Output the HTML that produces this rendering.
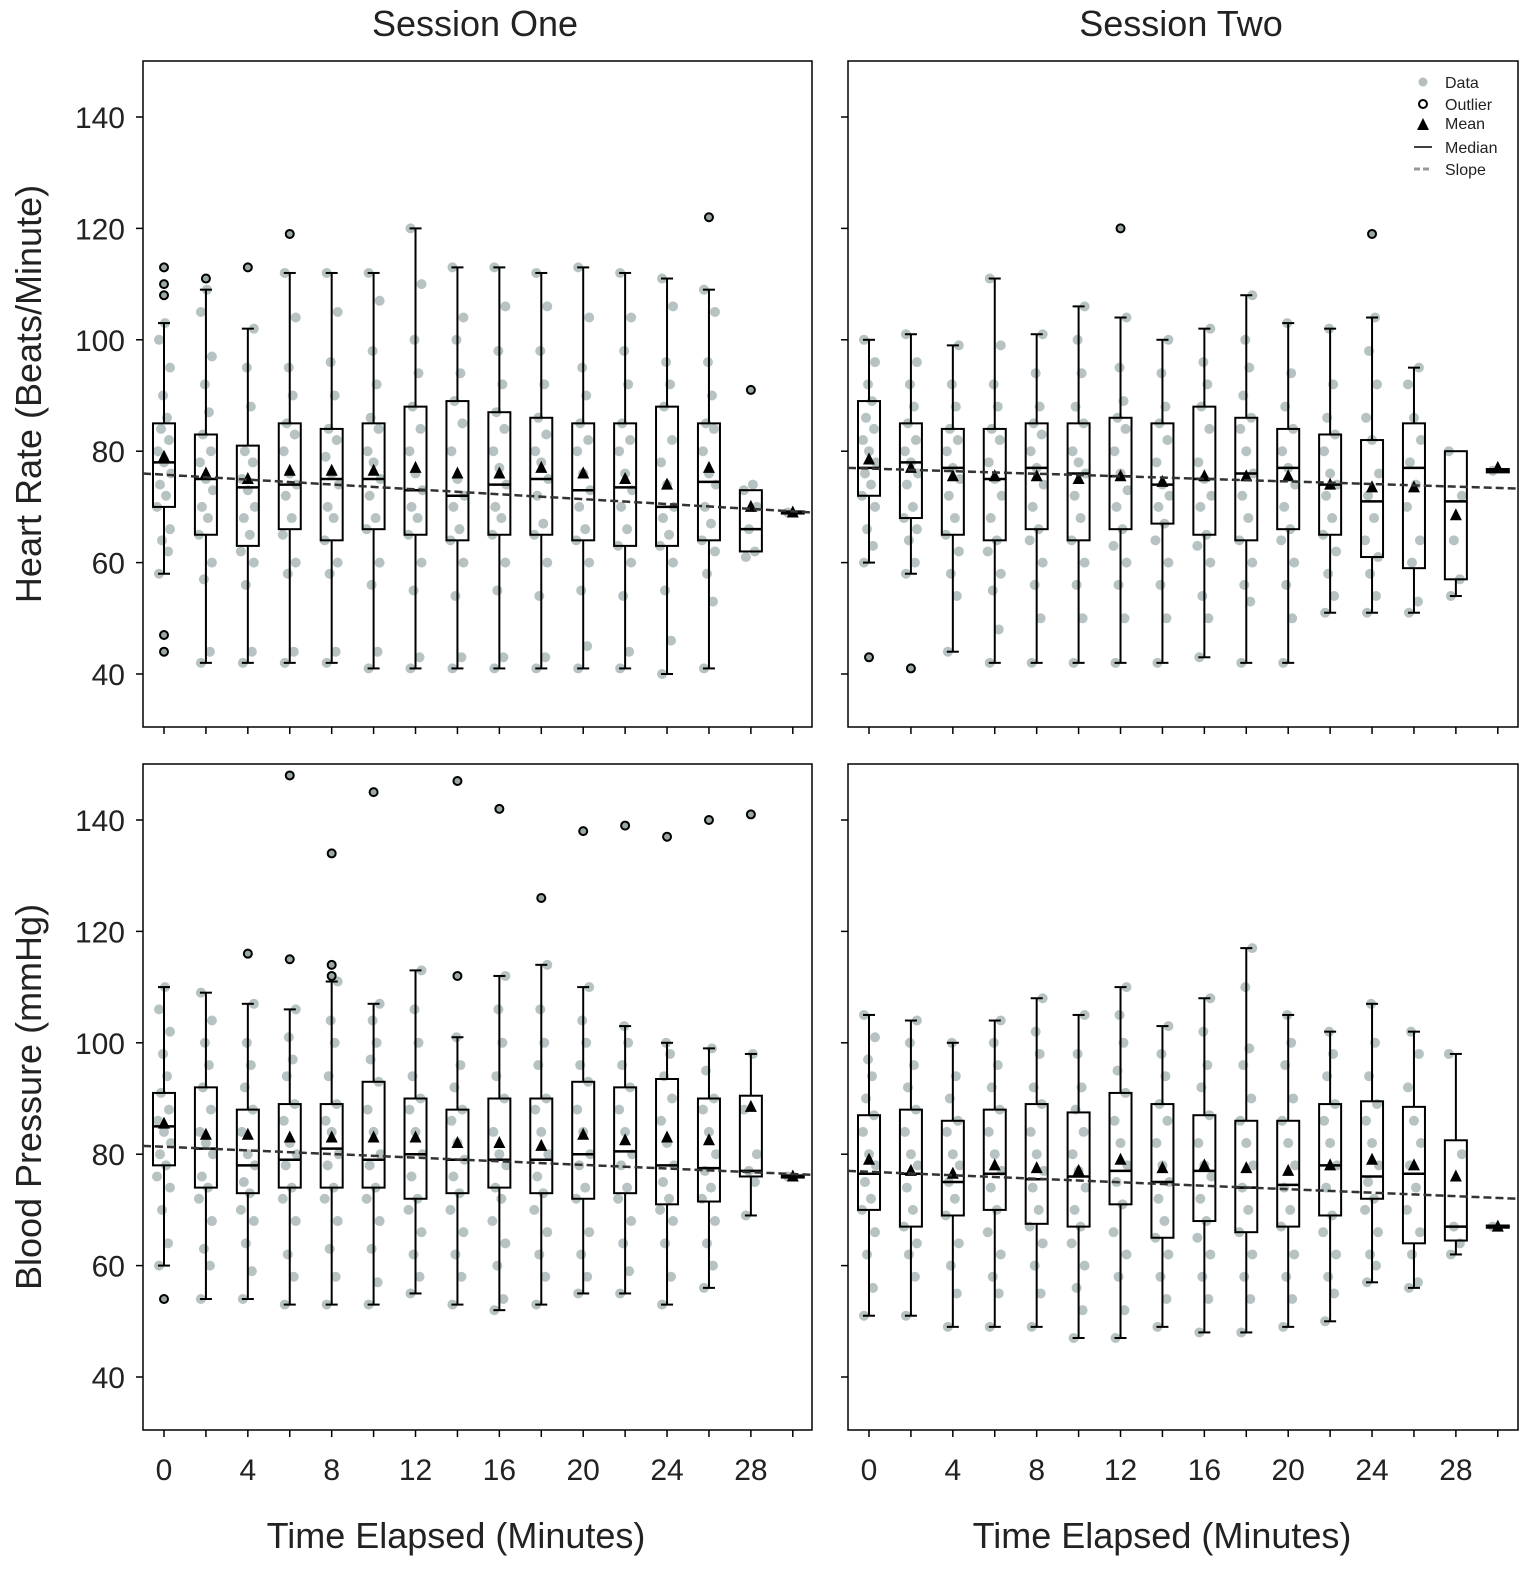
<!DOCTYPE html>
<html><head><meta charset="utf-8">
<style>
html,body{margin:0;padding:0;background:#fff;}
svg text{font-family:"Liberation Sans",sans-serif;fill:#222;}
</style></head>
<body>
<svg id="chart" width="1535" height="1577" viewBox="0 0 1535 1577" xmlns="http://www.w3.org/2000/svg">
<text x="475" y="36" font-size="36" text-anchor="middle">Session One</text>
<text x="1181" y="36" font-size="36" text-anchor="middle">Session Two</text>
<text transform="translate(41,394) rotate(-90)" font-size="36" text-anchor="middle">Heart Rate (Beats/Minute)</text>
<text transform="translate(41,1097) rotate(-90)" font-size="36" text-anchor="middle">Blood Pressure (mmHg)</text>
<text x="456" y="1548" font-size="36" text-anchor="middle">Time Elapsed (Minutes)</text>
<text x="1162" y="1548" font-size="36" text-anchor="middle">Time Elapsed (Minutes)</text>
<g id="plots"></g>
<g>
 <circle cx="1423" cy="82" r="4.5" fill="#b5bfbd"/>
 <text x="1445" y="88" font-size="16">Data</text>
 <circle cx="1423" cy="104" r="4" fill="none" stroke="#000" stroke-width="2"/>
 <text x="1445" y="110" font-size="16">Outlier</text>
 <polygon points="1417,130 1429,130 1423,118" fill="#000"/>
 <text x="1445" y="129" font-size="16">Mean</text>
 <line x1="1414" y1="147" x2="1432" y2="147" stroke="#000" stroke-width="1.5"/>
 <text x="1445" y="153" font-size="16">Median</text>
 <line x1="1414" y1="169" x2="1432" y2="169" stroke="#999" stroke-width="3" stroke-dasharray="6,3"/>
 <text x="1445" y="175" font-size="16">Slope</text>
</g>
</svg>
<script>
// x positions (minutes)
const times = [0,2,4,6,8,10,12,14,16,18,20,22,24,26,28,30];
const xTickLabels = [0,4,8,12,16,20,24,28];
const yTickLabels = [40,60,80,100,120,140];
// each panel: [whiskLo, q1, median, q3, whiskHi, mean]
const hr1Stats = [[58,70,78,85,103,79],[42,65,75,83,109,76],[42,63,73.5,81,102,75],[42,66,74,85,112,76.5],[42,64,75,84,112,76.5],[41,66,75,85,112,76.5],[41,65,73,88,120,77],[41,64,72,89,113,76],[41,65,74,87,113,76],[41,65,75,86,112,77],[41,64,73,85,113,76],[41,63,73.5,85,112,75],[40,63,70,88,111,74],[41,64,74.5,85,109,77],[62,62,66,73,73,70],[69,68.8,69,69.2,69,69]];
const hr1Out = [[113,110,108,47,44],[111],[113],[119],[],[],[],[],[],[],[],[],[],[122],[91],[]];
const hr2Stats = [[60,72,77,89,100,78.5],[58,68,78,85,101,77],[44,65,77,84,99,75.5],[42,64,75,84,111,75.5],[42,66,77,85,101,75.5],[42,64,76,85,106,75],[42,66,75.5,86,104,75.5],[42,67,74,85,100,74.5],[43,65,75,88,102,75.5],[42,64,76,86,108,75.5],[42,66,77,84,103,75.5],[51,65,74,83,102,74],[51,61,71,82,104,73.5],[51,59,77,85,95,73.5],[54,57,71,80,80,68.5],[76.5,76.2,76.5,76.8,76.5,77]];
const hr2Out = [[43],[41],[],[],[],[],[120],[],[],[],[],[],[119],[],[],[]];
const bp1Stats = [[60,78,85,91,110,85.5],[54,74,81,92,109,83.5],[54,73,78,88,107,83.5],[53,74,79,89,106,83],[53,74,81,89,111,83],[53,74,79,93,107,83],[55,72,80,90,113,83],[53,73,79,88,101,82],[52,74,79,90,112,82],[53,73,79,90,114,81.5],[55,72,80,93,110,83.5],[55,73,80.5,92,103,82.5],[53,71,78,93.5,100,83],[56,71.5,77.5,90,99,82.5],[69,76,77,90.5,98,88.5],[76,75.8,76,76.2,76,76]];
const bp1Out = [[54],[],[116],[148,115],[134,114,112],[145],[],[147,112],[142],[126],[138],[139],[137],[140],[141],[]];
const bp2Stats = [[51,70,76.5,87,105,79],[51,67,76.5,88,104,77],[49,69,75,86,100,76.5],[49,70,76.5,88,104,78],[49,67.5,75.5,89,108,77.5],[47,67,76,87.5,105,77],[47,71,77,91,110,79],[49,65,75,89,103,77.5],[48,68,77,87,108,78],[48,66,74,86,117,77.5],[49,67,74.5,86,105,77],[50,69,78,89,102,78],[57,72,76,89.5,107,79],[56,64,76.5,88.5,102,78],[62,64.5,67,82.5,98,76],[67,66.8,67,67.2,67,67]];
const bp2Out = [[],[],[],[],[],[],[],[],[],[],[],[],[],[],[],[]];
// slope line endpoints (value at left and right frame edge)
const hr1Slope = [76,69];
const hr2Slope = [77,73.3];
const bp1Slope = [81.5,76.3];
const bp2Slope = [77,72];
// representative individual observations per box (estimated)
const hr1Pts = [[58,62,64,66,70,72,74,76,78,80,82,84,86,90,95,100,103],[42,44,57,60,65,68,70,73,75,78,80,83,87,92,97,105,109],[42,44,56,60,62,65,68,70,73,75,78,80,88,95,102],[42,44,58,60,65,68,72,74,76,80,83,85,90,95,104,112],[42,44,58,60,64,68,70,74,76,79,82,84,90,96,105,112],[41,44,56,60,66,68,72,75,78,80,84,86,92,98,107,112],[41,43,55,60,65,68,70,73,76,80,84,88,94,100,110,120],[41,43,54,60,64,66,70,72,75,80,85,89,94,100,104,113],[41,43,55,60,65,68,70,74,77,80,84,87,92,98,106,113],[41,43,54,60,65,67,72,75,78,80,83,86,92,98,106,112],[41,45,55,60,64,66,70,73,76,80,82,85,90,95,104,113],[41,44,54,60,63,66,70,73,76,80,82,85,92,98,104,112],[40,46,55,60,63,65,68,70,74,78,82,88,92,96,106,111],[41,53,58,62,64,67,70,74,76,80,84,85,90,96,105,109],[61,62,66,70,73,74],[69]];
const hr2Pts = [[60,63,66,70,72,74,76,78,80,82,84,86,89,92,96,100],[58,60,64,66,68,70,74,76,78,80,82,85,88,92,96,101],[44,54,58,62,65,68,72,75,77,80,82,84,88,92,99],[42,48,55,58,62,64,68,72,75,78,82,84,88,92,99,111],[42,50,56,60,64,66,70,74,77,80,83,85,88,94,101],[42,50,56,60,64,68,72,76,78,80,85,88,94,100,106],[42,50,56,60,63,66,70,73,76,80,84,86,89,95,104],[42,50,56,60,64,67,70,72,74,78,82,85,88,94,100],[43,50,54,60,63,65,70,72,75,78,84,88,92,96,102],[42,53,56,60,64,68,72,76,80,84,86,90,95,100,108],[42,50,56,60,64,66,70,74,77,80,84,88,94,103],[51,54,58,62,65,68,72,74,76,80,83,86,92,102],[51,54,58,61,64,68,72,76,82,86,92,98,104],[51,53,60,64,70,74,78,82,86,92,95],[54,57,64,72,80],[76.5]];
const bp1Pts = [[60,64,70,74,76,78,80,82,84,86,88,91,94,98,102,106,110],[54,60,63,68,72,74,76,80,82,84,88,92,96,100,104,109],[54,59,64,68,70,73,75,78,80,84,88,92,96,100,107],[53,58,62,68,72,74,78,80,82,86,89,94,97,101,106],[53,58,63,68,72,74,78,80,84,86,89,94,100,104,111],[53,57,63,68,72,74,78,80,84,88,93,97,100,104,107],[55,58,62,66,70,72,76,80,84,88,90,94,100,106,113],[53,58,62,66,70,73,76,79,82,86,88,92,96,101],[52,54,60,64,68,72,74,78,80,84,90,94,100,106,112],[53,58,62,66,70,73,76,80,84,88,90,96,100,106,114],[55,58,62,66,72,74,78,80,84,88,93,96,100,104,110],[55,59,64,68,72,74,78,80,84,88,92,96,100,103],[53,58,64,68,70,72,75,78,82,86,90,94,98,100],[56,60,64,68,72,74,77,80,84,88,90,95,99],[69,75,77,80,88,98],[76]];
const bp2Pts = [[51,56,62,66,70,72,75,78,80,84,87,90,94,97,101,105],[51,58,62,64,67,70,74,78,80,84,88,92,96,100,104],[49,55,60,64,69,72,75,78,80,84,86,90,94,100],[49,55,58,62,66,70,74,77,80,84,88,92,96,100,104],[49,55,60,64,67,70,74,77,80,84,89,92,98,102,108],[47,52,56,60,64,67,70,74,77,80,84,88,92,98,105],[47,52,58,62,66,71,75,78,82,86,91,95,100,105,110],[49,54,58,62,65,68,72,75,78,82,86,89,94,98,103],[48,54,58,62,65,68,72,76,78,82,87,92,96,102,108],[48,54,58,62,66,70,74,78,82,86,90,96,99,110,117],[49,54,58,62,67,70,74,78,82,86,90,96,100,105],[50,55,58,62,66,69,74,78,82,86,89,94,98,102],[57,60,62,66,70,72,75,78,82,86,89,94,100,107],[56,57,62,66,70,74,78,82,86,92,98,102],[62,64,67,80,98],[67]];

const panels = [
 {name:'heart-rate-session-one', left:143, top:61, right:812, bottom:727, x0:164, stats:hr1Stats, out:hr1Out, pts:hr1Pts, slope:hr1Slope, yLabels:true, xLabels:false},
 {name:'heart-rate-session-two', left:848, top:61, right:1518, bottom:727, x0:869, stats:hr2Stats, out:hr2Out, pts:hr2Pts, slope:hr2Slope, yLabels:false, xLabels:false},
 {name:'blood-pressure-session-one', left:143, top:764, right:812, bottom:1430, x0:164, stats:bp1Stats, out:bp1Out, pts:bp1Pts, slope:bp1Slope, yLabels:true, xLabels:true},
 {name:'blood-pressure-session-two', left:848, top:764, right:1518, bottom:1430, x0:869, stats:bp2Stats, out:bp2Out, pts:bp2Pts, slope:bp2Slope, yLabels:false, xLabels:true}
];
const jit = [-5,4,-2,6,-7,2,-4,7,0,-6,5,-3,3,-1,6,-5,1];
const NS = 'http://www.w3.org/2000/svg';
const root = document.getElementById('plots');
function mk(tag, attrs, parent){const e=document.createElementNS(NS,tag);for(const k in attrs)e.setAttribute(k,attrs[k]);parent.appendChild(e);return e;}
panels.forEach(p=>{
  const pxPerMin = 20.96, pxPerUnit = 5.57;
  const yOf140 = p.top + 56;
  const X = t => p.x0 + t*pxPerMin;
  const Y = v => yOf140 + (140 - v)*pxPerUnit;
  const g = mk('g',{},root);
  
  
  const frame = mk('rect',{x:p.left,y:p.top,width:p.right-p.left,height:p.bottom-p.top,fill:'none',stroke:'#000','stroke-width':1.5},g);
  
  
  yTickLabels.forEach(v=>{
    const tk = mk('line',{x1:p.left-7,x2:p.left,y1:Y(v),y2:Y(v),stroke:'#000','stroke-width':1.5},g);
    
    
    if(p.yLabels){
      const t = mk('text',{x:p.left-18,y:Y(v)+11,'font-size':30,'text-anchor':'end'},g);
      t.textContent = v;
      
      
    }
  });
  times.forEach(t=>{
    const tk = mk('line',{x1:X(t),x2:X(t),y1:p.bottom,y2:p.bottom+7,stroke:'#000','stroke-width':1.5},g);
    
    
  });
  if(p.xLabels){
    xTickLabels.forEach(t=>{
      const tx = mk('text',{x:X(t),y:p.bottom+50,'font-size':30,'text-anchor':'middle'},g);
      tx.textContent = t;
      
      
    });
  }
  times.forEach((t,i)=>{
    const s = p.stats[i], cx = X(t);
    const bg = mk('g',{},g);
    
    
    p.pts[i].forEach((v,j)=>{
      const c = mk('circle',{cx:cx+jit[j%jit.length],cy:Y(v),r:5,fill:'#6f8885','fill-opacity':0.5},bg);
      
      
    });
    const st = {stroke:'#000','stroke-width':2};
    if(s[4]>s[3]) mk('line',Object.assign({x1:cx,x2:cx,y1:Y(s[4]),y2:Y(s[3])},st),bg);
    if(s[0]<s[1]) mk('line',Object.assign({x1:cx,x2:cx,y1:Y(s[1]),y2:Y(s[0])},st),bg);
    if(s[4]>s[3]) mk('line',Object.assign({x1:cx-6,x2:cx+6,y1:Y(s[4]),y2:Y(s[4])},st),bg);
    if(s[0]<s[1]) mk('line',Object.assign({x1:cx-6,x2:cx+6,y1:Y(s[0]),y2:Y(s[0])},st),bg);
    const bx = mk('rect',{x:cx-11,y:Y(s[3]),width:22,height:Math.max(1,Y(s[1])-Y(s[3])),fill:'none',stroke:'#000','stroke-width':2},bg);
    
    
    const md = mk('line',{x1:cx-11,x2:cx+11,y1:Y(s[2]),y2:Y(s[2]),stroke:'#000','stroke-width':2.5},bg);
    
    
    p.out[i].forEach(v=>{
      const o = mk('circle',{cx:cx,cy:Y(v),r:4,fill:'#9aa8a6',stroke:'#000','stroke-width':2},bg);
      
      
    });
    const my = Y(s[5]);
    const tri = mk('polygon',{points:`${cx-6},${my+5} ${cx+6},${my+5} ${cx},${my-7}`,fill:'#000'},bg);
    
    
  });
  const sl = mk('line',{x1:p.left,x2:p.right,y1:Y(p.slope[0]),y2:Y(p.slope[1]),stroke:'#333','stroke-width':2.5,'stroke-dasharray':'8,4'},g);
  
  
});
</script>
</body></html>
